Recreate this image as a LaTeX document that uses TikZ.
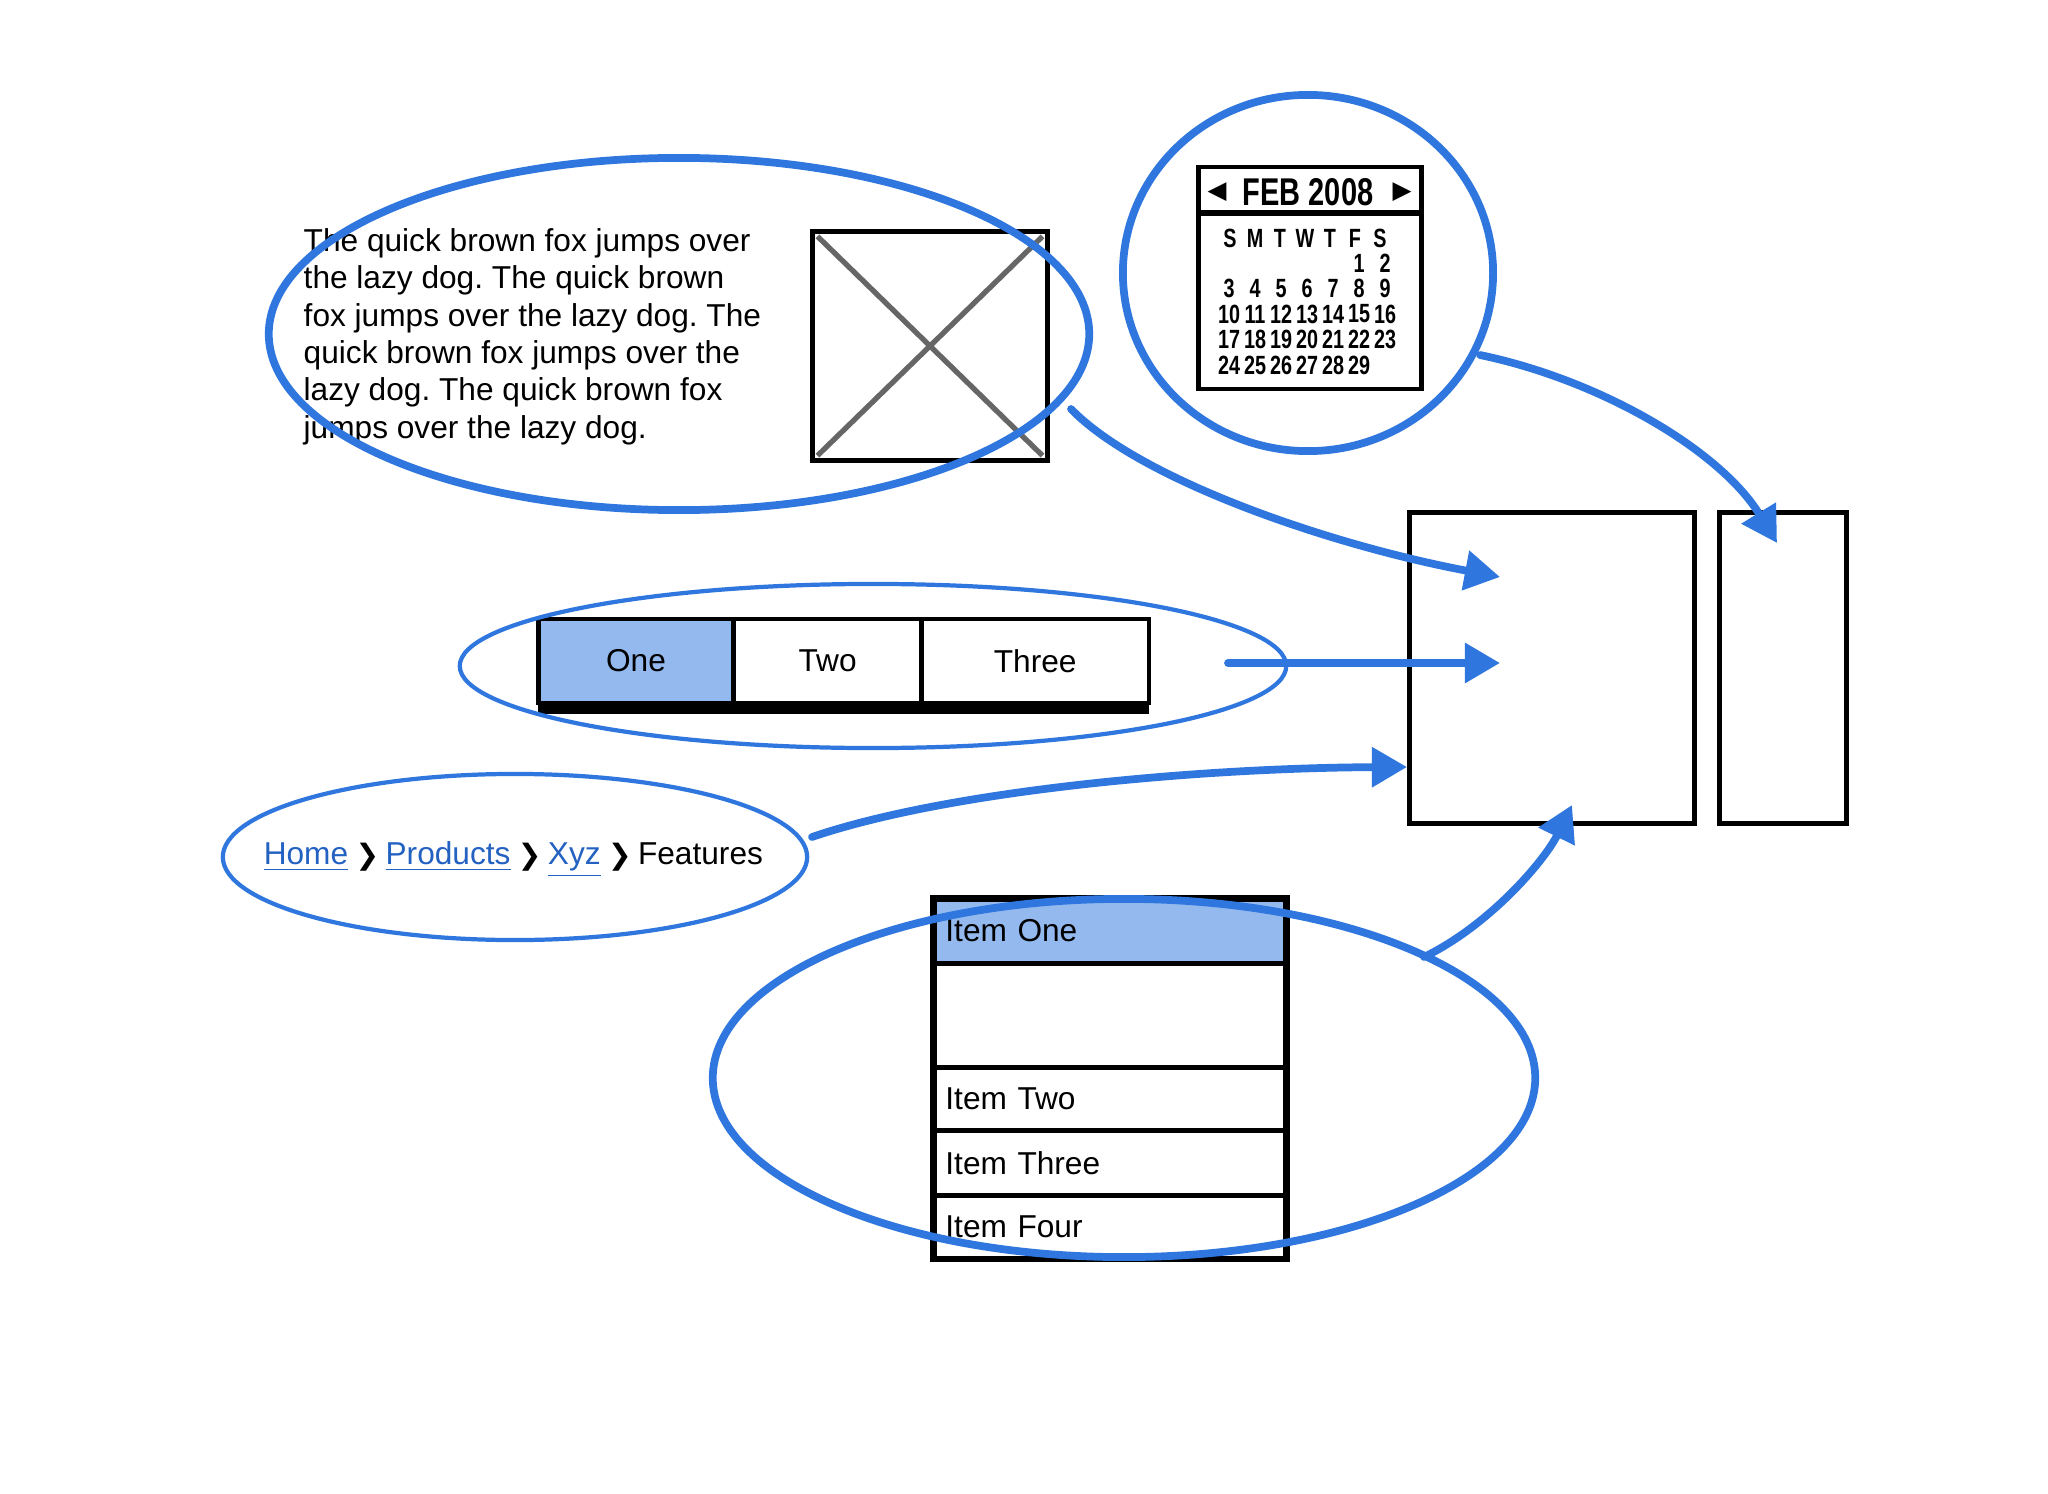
\documentclass[tikz,border=0pt]{standalone}
\usepackage{fontspec}
\setmainfont{Liberation Sans}
\newfontfamily\calfont[FakeStretch=0.75]{Liberation Sans}
\newfontfamily\symfont{DejaVu Sans}
\usepackage{xcolor}
\usetikzlibrary{arrows.meta,positioning,fit,shapes.geometric}
\definecolor{pen}{HTML}{2F77DE}
\definecolor{sel}{HTML}{93B9EE}
\definecolor{link}{HTML}{2462C2}
\frenchspacing

\begin{document}
\begin{tikzpicture}[x=0.01cm, y=-0.01cm, font=\fontsize{9}{10.6}\selectfont, node distance=0pt,
ring/.style={draw=pen,ellipse,line width=2.2pt,inner sep=0},
thinring/.style={ring,line width=1.2pt},
wire/.style={draw,line width=1.3pt,inner sep=0,outer sep=0},
tab/.style={wire,minimum height=0.84cm},
row/.style={wire,text width=3.29cm,align=left,inner xsep=0.12cm,inner ysep=0},
crumb/.style={inner sep=0},
chev/.style={inner sep=0,font=\symfont\fontsize{8}{9}\selectfont},
calnum/.style={inner sep=0,font=\calfont\bfseries\fontsize{7.5}{8.5}\selectfont},
cross/.style={draw=gray!80!black,line width=1.5pt,shorten <=2pt,shorten >=2pt},
arr/.style={-{Triangle[length=10pt,width=11pt]},draw=pen,line width=2.2pt,line cap=round}]

\useasboundingbox[fill=white] (0,0) rectangle (2048,1494);

% text block and picture placeholder
\node[anchor=north west,inner sep=0,align=left] (para) at (303,228) {The quick brown fox jumps over\\the lazy dog. The quick brown\\fox jumps over the lazy dog. The\\quick brown fox jumps over the\\lazy dog. The quick brown fox\\jumps over the lazy dog.};
\node[wire,minimum width=2.35cm,minimum height=2.29cm] (img) at (930,346) {};
\draw[cross] (img.north west) -- (img.south east);
\draw[cross] (img.north east) -- (img.south west);
\node[ring,minimum width=8.2cm,minimum height=3.52cm] (paraRing) at (679,334) {};

% calendar
\node[wire,minimum width=2.23cm,minimum height=2.22cm] (cal) at (1310,278) {};
\draw[line width=1.6pt] ([yshift=-0.46cm]cal.north west) -- ([yshift=-0.46cm]cal.north east);
\node[calnum,font=\calfont\bfseries\fontsize{11}{12}\selectfont] (month) at (1308,192) {FEB 2008};
\node[inner sep=0,font=\symfont\fontsize{7}{8}\selectfont] (prev) at (1217,192) {◀};
\node[inner sep=0,font=\symfont\fontsize{7}{8}\selectfont] (next) at (1402,192) {▶};
\foreach \d [count=\i from 0] in {S,M,T,W,T,F,S}
  \node[calnum] (wd\i) at (1230+25*\i,238) {\d};
\foreach \n in {1,...,29}{
  \pgfmathtruncatemacro\col{mod(\n+4,7)}
  \pgfmathtruncatemacro\row{(\n+4)/7}
  \node[calnum] (day\n) at (1229+26*\col,263+25.5*\row) {\n};
}
\node[ring,minimum width=3.7cm,minimum height=3.56cm] (calRing) at (1308,273) {};

% tabs
\node[tab,fill=sel,minimum width=1.95cm] (one) at (636,661) {One};
\node[tab,right=of one,minimum width=1.88cm] (two) {Two};
\node[tab,right=of two,minimum width=2.27cm] (three) {Three};
\fill ([yshift=-0.11cm]one.south west) rectangle (three.south east);
\node[thinring,minimum width=8.26cm,minimum height=1.64cm] (tabRing) at (873,666) {};

% breadcrumb
\node[crumb,text=link] (home) at (306,857) {\underline{Home}};
\node[chev,base right=0.06cm of home] (c1) {❯};
\node[crumb,text=link,base right=0.05cm of c1] (products) {\underline{Products}};
\node[chev,base right=0.06cm of products] (c2) {❯};
\node[crumb,text=link,base right=0.05cm of c2] (xyz) {\underline{Xyz}};
\node[chev,base right=0.06cm of xyz] (c3) {❯};
\node[crumb,base right=0.05cm of c3] (features) {Features};
\node[thinring,minimum width=5.84cm,minimum height=1.66cm] (crumbRing) at (515,857) {};

% list
\node[row,fill=sel,minimum height=0.65cm] (r1) at (1110,931) {Item One};
\node[row,below=of r1,minimum height=1.04cm] (r0) {};
\node[row,below=of r0,minimum height=0.63cm] (r2) {Item Two};
\node[row,below=of r2,minimum height=0.65cm] (r3) {Item Three};
\node[row,below=of r3,minimum height=0.63cm] (r4) {Item Four};
\node[wire,line width=1.8pt,fit=(r1)(r4)] (list) {};
\node[ring,minimum width=8.22cm,minimum height=3.58cm] (listRing) at (1124,1078) {};

% target layout
\node[wire,minimum width=2.85cm,minimum height=3.11cm] (page) at (1552,668) {};
\node[wire,right=0.25cm of page,minimum width=1.27cm,minimum height=3.11cm] (side) {};

% connectors
\coordinate (s1) at (1071,409); \coordinate (e1) at (1500,577);
\coordinate (s2) at (1228,663); \coordinate (e2) at (1500,663);
\coordinate (s3) at (812,837);  \coordinate (e3) at (1407,767);
\coordinate (s4) at (1424,957); \coordinate (e4) at (1572,805);
\coordinate (s5) at (1480,355); \coordinate (e5) at (1777,543);
\draw[arr] (s1) .. controls (1140,480) and (1330,545) .. (e1);
\draw[arr] (s2) -- (e2);
\draw[arr] (s3) .. controls (950,790) and (1200,768) .. (e3);
\draw[arr] (s4) .. controls (1490,925) and (1545,860) .. (e4);
\draw[arr] (s5) .. controls (1600,380) and (1720,450) .. (e5);
\end{tikzpicture}
\end{document}
